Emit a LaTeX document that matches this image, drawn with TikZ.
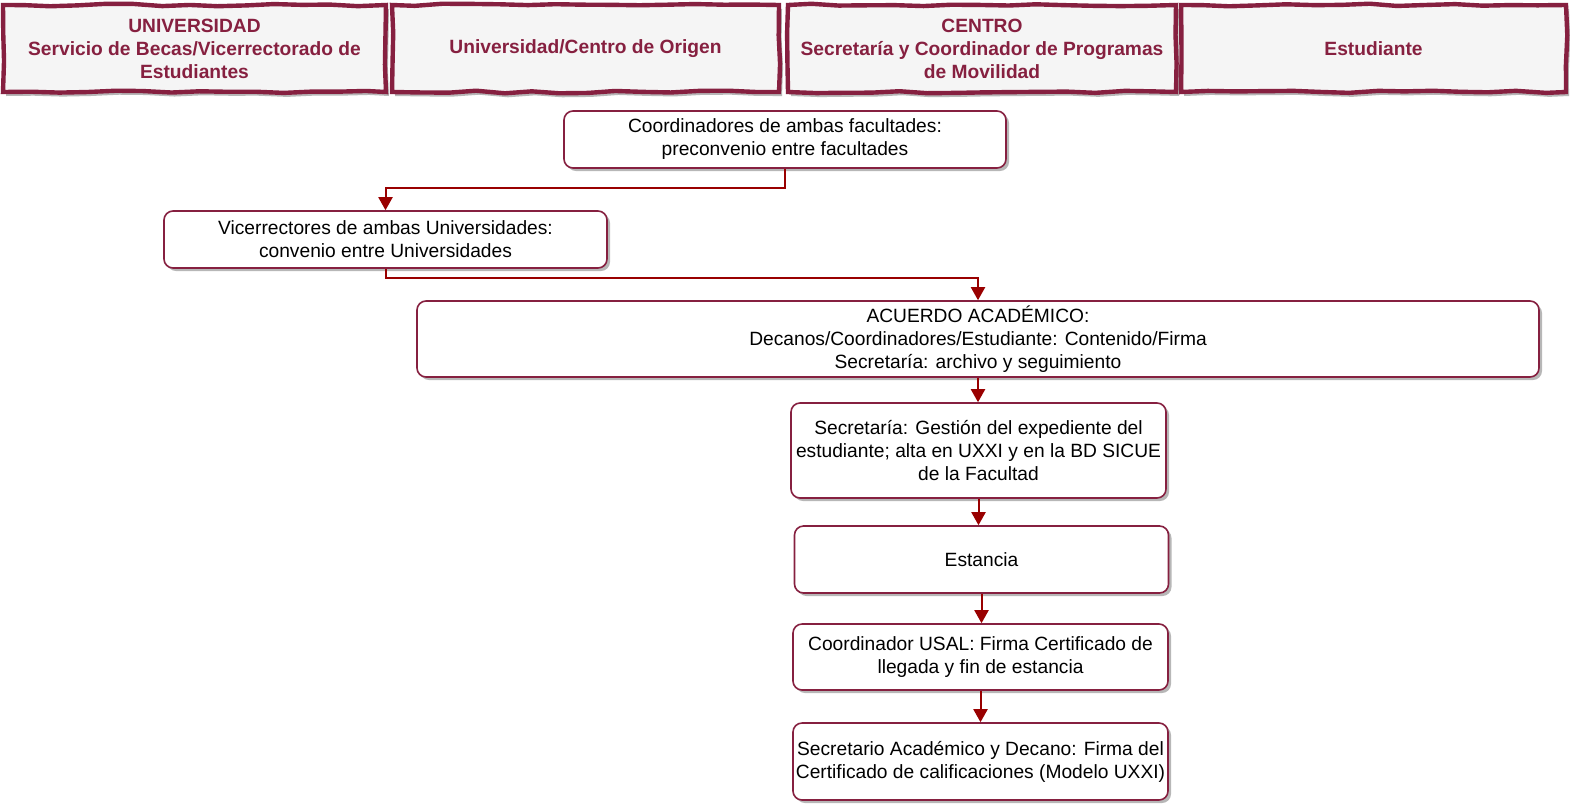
\documentclass[tikz,border=0pt]{standalone}
\usepackage{fontspec}
\setmainfont{Liberation Sans}
\usetikzlibrary{arrows.meta,shadows,decorations.pathmorphing}
\definecolor{maroon}{HTML}{862040}
\definecolor{arrowred}{HTML}{990000}
\definecolor{headfill}{HTML}{F5F5F5}
\begin{document}
\begin{tikzpicture}[x=1pt,y=-1pt,
  every node/.style={font=\fontsize{19.2}{23}\selectfont, align=center, inner sep=0pt},
  header/.style={draw=maroon, line width=4.4pt, fill=headfill, text=maroon,
    font=\fontsize{19.2}{23}\selectfont\bfseries,
    decorate, decoration={random steps, segment length=28pt, amplitude=1.3pt},
    drop shadow={shadow xshift=3pt, shadow yshift=-4pt, fill=black!35, opacity=0.8}},
  stepbox/.style={draw=maroon, line width=1.6pt, fill=white, rounded corners=9pt,
    drop shadow={shadow xshift=3pt, shadow yshift=-3pt, fill=black!40, opacity=0.7}},
  conn/.style={draw=arrowred, line width=2pt, -{Triangle[length=13pt,width=14pt]}}
]
\pgfmathsetseed{7}
\useasboundingbox[fill=white] (0,0) rectangle (1570,804);

% headers
\node[header, minimum width=383, minimum height=87] (h1) at (194.5,48.5)
  {UNIVERSIDAD\\Servicio de Becas/Vicerrectorado de\\Estudiantes};
\node[header, minimum width=387, minimum height=87] (h2) at (585.5,48.5)
  {Universidad/Centro de Origen};
\node[header, minimum width=388, minimum height=87] (h3) at (982,48.5)
  {CENTRO\\Secretaría y Coordinador de Programas\\de Movilidad};
\node[header, minimum width=385, minimum height=87] (h4) at (1373.5,48.5)
  {Estudiante};

% process boxes
\node[stepbox, minimum width=442, minimum height=57] (b1) at (785,139.5)
  {Coordinadores de ambas facultades:\\preconvenio entre facultades};
\node[stepbox, minimum width=443, minimum height=57] (b2) at (385.5,239.5)
  {Vicerrectores de ambas Universidades:\\convenio entre Universidades};
\node[stepbox, minimum width=1122, minimum height=76] (b3) at (978,339)
  {ACUERDO ACADÉMICO:\\Decanos/Coordinadores/Estudiante: Contenido/Firma\\Secretaría: archivo y seguimiento};
\node[stepbox, minimum width=375, minimum height=95] (b4) at (978.5,450.5)
  {Secretaría: Gestión del expediente del\\estudiante; alta en UXXI y en la BD SICUE\\de la Facultad};
\node[stepbox, minimum width=374, minimum height=67] (b5) at (981.5,559.5)
  {Estancia};
\node[stepbox, minimum width=375, minimum height=66] (b6) at (980.5,657)
  {Coordinador USAL: Firma Certificado de\\llegada y fin de estancia};
\node[stepbox, minimum width=375, minimum height=77] (b7) at (980.5,761.5)
  {Secretario Académico y Decano: Firma del\\Certificado de calificaciones (Modelo UXXI)};

% connectors
\draw[conn] (b1.south) -- ++(0,19) -| (b2.north);
\draw[conn] (b2.south) -- ++(0,9.5) -| (b3.north);
\draw[conn] (b3.south) -- (b3.south |- b4.north);
\draw[conn] (b4.south) -- (b4.south |- b5.north);
\draw[conn] (b5.south) -- (b5.south |- b6.north);
\draw[conn] (b6.south) -- (b6.south |- b7.north);
\end{tikzpicture}
\end{document}
